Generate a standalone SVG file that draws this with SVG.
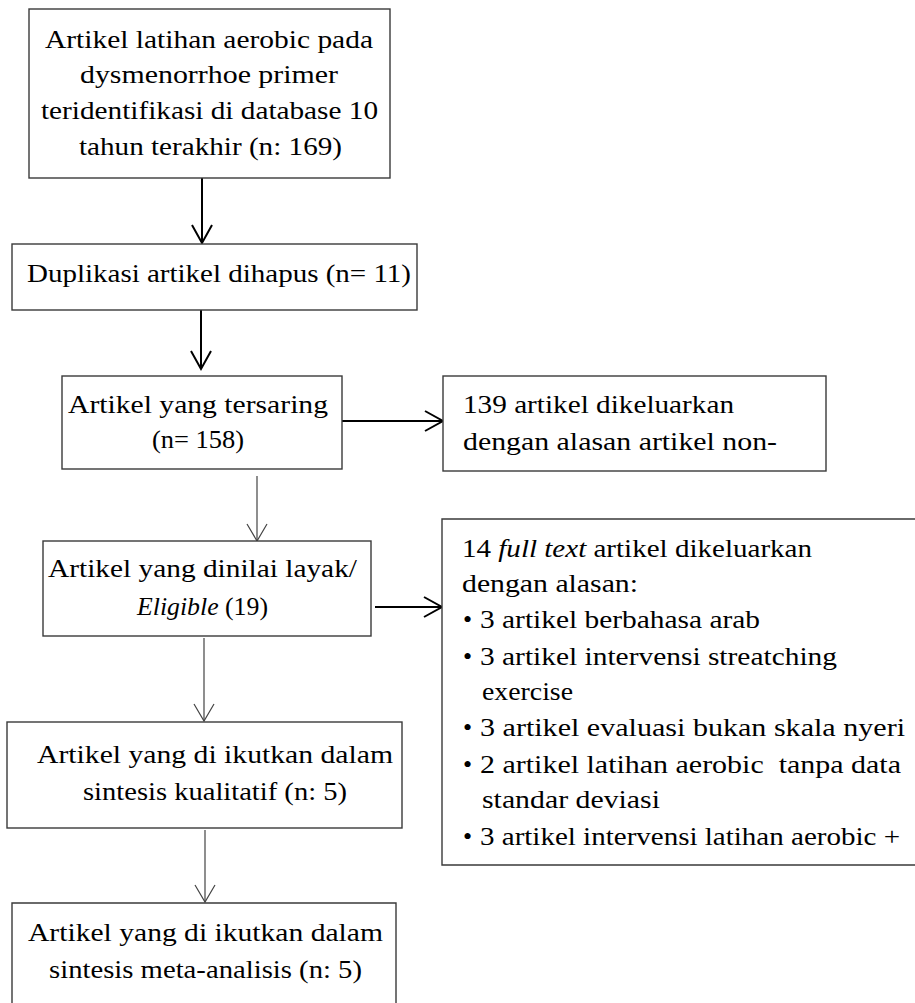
<svg xmlns="http://www.w3.org/2000/svg" width="915" height="1003" viewBox="0 0 915 1003">
<style>
.box{fill:#fff;stroke:#3a3a3a;stroke-width:1.4}
.t{font-family:"Liberation Serif","DejaVu Serif",serif;font-size:26px;fill:#000}
.i{font-style:italic}
.thick{stroke:#000;stroke-width:2;fill:none}
.thin{stroke:#444;stroke-width:1.2;fill:none}
</style>
<defs>
<marker id="hk" markerUnits="userSpaceOnUse" markerWidth="24" markerHeight="24" viewBox="0 0 24 24" refX="20" refY="12" orient="auto">
<path d="M2,2 L20,12 L2,22" fill="none" stroke="#000" stroke-width="2"/>
</marker>
<marker id="hn" markerUnits="userSpaceOnUse" markerWidth="24" markerHeight="24" viewBox="0 0 24 24" refX="20" refY="12" orient="auto">
<path d="M3,2 L20,12 L3,22" fill="none" stroke="#444" stroke-width="1.2"/>
</marker>
</defs>
<rect width="915" height="1003" fill="#fff"/>
<g id="connectors">
<line class="thick" x1="202" y1="178" x2="202" y2="243" marker-end="url(#hk)"/>
<line class="thick" x1="201" y1="310" x2="201" y2="369" marker-end="url(#hk)"/>
<line class="thick" x1="342" y1="421" x2="443" y2="421" marker-end="url(#hk)"/>
<line class="thin" x1="257" y1="476" x2="257" y2="541" marker-end="url(#hn)"/>
<line class="thick" x1="375" y1="607" x2="442" y2="607" marker-end="url(#hk)"/>
<line class="thin" x1="204" y1="638" x2="204" y2="721" marker-end="url(#hn)"/>
<line class="thin" x1="205" y1="830" x2="205" y2="902" marker-end="url(#hn)"/>
</g>
<g id="n1">
<rect class="box" x="29" y="9" width="361" height="169"/>
<text class="t" x="45" y="48" textLength="328" lengthAdjust="spacingAndGlyphs">Artikel latihan aerobic pada</text>
<text class="t" x="80" y="83" textLength="258" lengthAdjust="spacingAndGlyphs">dysmenorrhoe primer</text>
<text class="t" x="41" y="119" textLength="337" lengthAdjust="spacingAndGlyphs">teridentifikasi di database 10</text>
<text class="t" x="79" y="155" textLength="263" lengthAdjust="spacingAndGlyphs">tahun terakhir (n: 169)</text>
</g>
<g id="n2">
<rect class="box" x="12" y="244" width="405" height="66"/>
<text class="t" x="27" y="282" textLength="384" lengthAdjust="spacingAndGlyphs">Duplikasi artikel dihapus (n= 11)</text>
</g>
<g id="n3">
<rect class="box" x="62" y="376" width="280" height="93"/>
<text class="t" x="68" y="413" textLength="260" lengthAdjust="spacingAndGlyphs">Artikel yang tersaring</text>
<text class="t" x="152" y="448" textLength="92" lengthAdjust="spacingAndGlyphs">(n= 158)</text>
</g>
<g id="n4">
<rect class="box" x="443" y="376" width="383" height="95"/>
<text class="t" x="463" y="413" textLength="271" lengthAdjust="spacingAndGlyphs">139 artikel dikeluarkan</text>
<text class="t" x="463" y="450" textLength="314" lengthAdjust="spacingAndGlyphs">dengan alasan artikel non-</text>
</g>
<g id="n5">
<rect class="box" x="43" y="541" width="328" height="95"/>
<text class="t" x="48" y="577" textLength="309" lengthAdjust="spacingAndGlyphs">Artikel yang dinilai layak/</text>
<text class="t" x="137" y="615" textLength="131" lengthAdjust="spacingAndGlyphs"><tspan class="i">Eligible</tspan> (19)</text>
</g>
<g id="n6">
<path class="box" d="M916,519 H442 V865 H916"/>
<text class="t" x="462" y="557" textLength="350" lengthAdjust="spacingAndGlyphs">14 <tspan class="i">full text</tspan> artikel dikeluarkan</text>
<text class="t" x="462" y="592" textLength="176" lengthAdjust="spacingAndGlyphs">dengan alasan:</text>
<text class="t" x="463" y="628">•</text>
<text class="t" x="480" y="628" textLength="280" lengthAdjust="spacingAndGlyphs">3 artikel berbahasa arab</text>
<text class="t" x="463" y="665">•</text>
<text class="t" x="480" y="665" textLength="357" lengthAdjust="spacingAndGlyphs">3 artikel intervensi streatching</text>
<text class="t" x="482" y="700" textLength="91" lengthAdjust="spacingAndGlyphs">exercise</text>
<text class="t" x="463" y="736">•</text>
<text class="t" x="480" y="736" textLength="425" lengthAdjust="spacingAndGlyphs">3 artikel evaluasi bukan skala nyeri</text>
<text class="t" x="463" y="773">•</text>
<text class="t" x="480" y="773" textLength="421" lengthAdjust="spacingAndGlyphs" xml:space="preserve">2 artikel latihan aerobic  tanpa data</text>
<text class="t" x="482" y="808" textLength="178" lengthAdjust="spacingAndGlyphs">standar deviasi</text>
<text class="t" x="463" y="845">•</text>
<text class="t" x="480" y="845" textLength="420" lengthAdjust="spacingAndGlyphs">3 artikel intervensi latihan aerobic +</text>
</g>
<g id="n7">
<rect class="box" x="7" y="722" width="395" height="106"/>
<text class="t" x="37" y="763" textLength="356" lengthAdjust="spacingAndGlyphs">Artikel yang di ikutkan dalam</text>
<text class="t" x="83" y="800" textLength="264" lengthAdjust="spacingAndGlyphs">sintesis kualitatif (n: 5)</text>
</g>
<g id="n8">
<path class="box" d="M12,1004 V903 H396 V1004"/>
<text class="t" x="28" y="941" textLength="355" lengthAdjust="spacingAndGlyphs">Artikel yang di ikutkan dalam</text>
<text class="t" x="49" y="978" textLength="313" lengthAdjust="spacingAndGlyphs">sintesis meta-analisis (n: 5)</text>
</g>
</svg>
